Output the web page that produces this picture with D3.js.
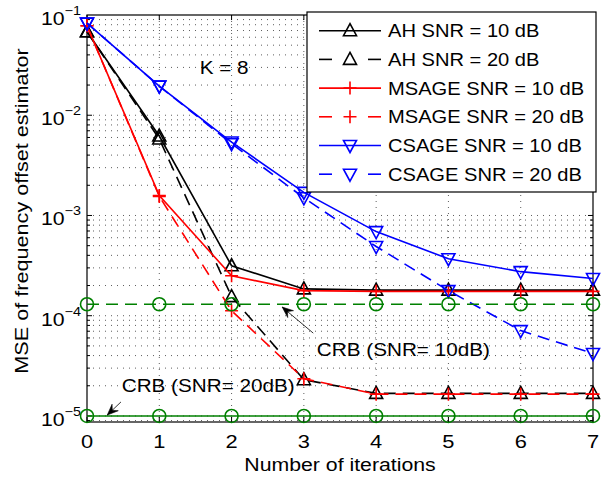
<!DOCTYPE html>
<html><head><meta charset="utf-8">
<script src="https://cdn.jsdelivr.net/npm/d3@7"></script>
<style>
body{margin:0;background:#fff;}
svg{display:block;font-family:"Liberation Sans",Arial,sans-serif;}
</style></head>
<body>
<svg id="chart" width="608" height="482"></svg>
<script>
// ---- data ----
const iterations = [0,1,2,3,4,5,6,7];
const ah10   = [0.068, 0.0062, 3.15e-4, 1.85e-4, 1.8e-4, 1.8e-4, 1.8e-4, 1.8e-4];
const ah20   = [0.068, 0.0058, 1.55e-4, 2.3e-5, 1.68e-5, 1.68e-5, 1.68e-5, 1.68e-5];
const msage10 = [0.078, 1.58e-3, 2.5e-4, 1.78e-4, 1.75e-4, 1.75e-4, 1.75e-4, 1.75e-4];
const msage20 = [0.078, 1.55e-3, 1.12e-4, 2.35e-5, 1.65e-5, 1.65e-5, 1.65e-5, 1.65e-5];
const csage10 = [0.083, 0.0195, 0.0054, 0.0017, 6.9e-4, 3.7e-4, 2.75e-4, 2.35e-4];
const csage20 = [0.083, 0.0195, 0.0052, 0.0015, 4.9e-4, 1.78e-4, 7.1e-5, 4.2e-5];
const crb10  = [1.3e-4, 1.3e-4, 1.3e-4, 1.3e-4, 1.3e-4, 1.3e-4, 1.3e-4, 1.3e-4];
const crb20  = [1e-5, 1e-5, 1e-5, 1e-5, 1e-5, 1e-5, 1e-5, 1e-5];
const xTicks = [0,1,2,3,4,5,6,7];
const yTickExps = [-1,-2,-3,-4,-5];
const legendLabels = ["AH SNR = 10 dB","AH SNR = 20 dB","MSAGE SNR = 10 dB","MSAGE SNR = 20 dB","CSAGE SNR = 10 dB","CSAGE SNR = 20 dB"];
const xLabel = "Number of iterations";
const yLabel = "MSE of frequency offset estimator";
const kText = "K = 8";
const crbNotes = [
  {text:"CRB (SNR= 10dB)", tx:3.18, ty:4.0e-5, ax0:3.13, ay0:6.7e-5, ax1:2.70, ay1:1.22e-4},
  {text:"CRB (SNR= 20dB)", tx:0.48, ty:1.72e-5, ax0:0.47, ay0:1.38e-5, ax1:0.28, ay1:1.02e-5}
];

const series = [
  {vals:ah10, color:"#000", dash:null, marker:"tri-up", legend:0},
  {vals:ah20, color:"#000", dash:"12,7", marker:"tri-up", legend:1},
  {vals:msage10, color:"#ff0000", dash:null, marker:"plus", legend:2},
  {vals:msage20, color:"#ff0000", dash:"12,7", marker:"plus", legend:3},
  {vals:csage10, color:"#0000ff", dash:null, marker:"tri-down", legend:4},
  {vals:csage20, color:"#0000ff", dash:"12,7", marker:"tri-down", legend:5},
  {vals:crb10, color:"#008000", dash:"12,7", marker:"circle", legend:-1},
  {vals:crb20, color:"#008000", dash:null, marker:"circle", legend:-1}
];

// ---- layout ----
const L = 87, R = 593, T = 15, B = 422;
const SX = 1.15; // horizontal glyph stretch to mimic reference font
const svg = d3.select("#chart");
const x = d3.scaleLinear().domain([0,7]).range([L,R]);
const y = d3.scaleLog().domain([8.7e-6, 0.1]).range([B,T]);

function addText(parent, px, py, str, size, anchor, rot, sx){
  return parent.append("text")
    .attr("transform",`translate(${px},${py}) rotate(${rot||0}) scale(${sx||SX},1)`)
    .attr("text-anchor",anchor||"start").attr("font-size",size).text(str);
}

// grid
const grid = svg.append("g").attr("stroke","#333").attr("stroke-width",0.8).attr("stroke-dasharray","1,5");
xTicks.forEach(t=>{ if(t>0 && t<7) grid.append("line").attr("x1",x(t)).attr("x2",x(t)).attr("y1",T).attr("y2",B); });
const minorVals = [];
for (let e=-6; e<=-1; e++) for (let m=1; m<=9; m++) { const v=m*Math.pow(10,e); if (v>=8.7e-6 && v<0.1) minorVals.push(v); }
minorVals.forEach(v=>{ grid.append("line").attr("x1",L).attr("x2",R).attr("y1",y(v)).attr("y2",y(v)); });

// axes box
svg.append("rect").attr("x",L).attr("y",T).attr("width",R-L).attr("height",B-T).attr("fill","none").attr("stroke","#000").attr("stroke-width",1.2);

// ticks
const tk = svg.append("g").attr("stroke","#000").attr("stroke-width",1);
xTicks.forEach(t=>{
  tk.append("line").attr("x1",x(t)).attr("x2",x(t)).attr("y1",B).attr("y2",B-5);
  tk.append("line").attr("x1",x(t)).attr("x2",x(t)).attr("y1",T).attr("y2",T+5);
});
minorVals.forEach(v=>{
  const major = Math.abs(Math.log10(v)-Math.round(Math.log10(v)))<1e-9;
  const len = major?5:3;
  tk.append("line").attr("x1",L).attr("x2",L+len).attr("y1",y(v)).attr("y2",y(v));
  tk.append("line").attr("x1",R).attr("x2",R-len).attr("y1",y(v)).attr("y2",y(v));
});

// tick labels
xTicks.forEach(t=>{
  addText(svg, x(t), 448, String(t), 19, "middle");
});
yTickExps.forEach(e=>{
  const yy = y(Math.pow(10,e));
  const g = svg.append("text").attr("transform",`translate(81,${yy+10}) scale(${SX},1)`).attr("text-anchor","end").attr("font-size",18.5);
  g.append("tspan").text("10");
  g.append("tspan").attr("font-size",12.5).attr("dy",-10).text("\u2212"+(-e));
});

// axis labels
addText(svg, (L+R)/2, 471, xLabel, 18.5, "middle");
addText(svg, 28, 211, yLabel, 18.5, "middle", -90, 1.17);

// marker drawing
function drawMarker(g, type, cx, cy, color){
  if (type==="tri-up") {
    g.append("path").attr("d",`M${cx},${cy-7}L${cx+6.5},${cy+5}L${cx-6.5},${cy+5}Z`).attr("fill","none").attr("stroke",color).attr("stroke-width",1.6);
  } else if (type==="tri-down") {
    g.append("path").attr("d",`M${cx},${cy+7}L${cx+6.5},${cy-5}L${cx-6.5},${cy-5}Z`).attr("fill","none").attr("stroke",color).attr("stroke-width",1.6);
  } else if (type==="plus") {
    g.append("path").attr("d",`M${cx-6.5},${cy}H${cx+6.5}M${cx},${cy-6.5}V${cy+6.5}`).attr("fill","none").attr("stroke",color).attr("stroke-width",1.6);
  } else if (type==="circle") {
    g.append("circle").attr("cx",cx).attr("cy",cy).attr("r",6.5).attr("fill","none").attr("stroke",color).attr("stroke-width",1.6);
  }
}

// series
const line = d3.line().x((d,i)=>x(iterations[i])).y(d=>y(d));
const plotG = svg.append("g");
series.forEach(s=>{
  plotG.append("path").datum(s.vals).attr("d",line).attr("fill","none").attr("stroke",s.color).attr("stroke-width",1.6)
    .attr("stroke-dasharray",s.dash);
  s.vals.forEach((v,i)=>drawMarker(plotG, s.marker, x(iterations[i]), y(v), s.color));
});

// K = 8
addText(svg, x(1.56), y(0.0257), kText, 18);

// CRB annotations with arrows
function arrow(x0,y0,x1,y1){
  svg.append("line").attr("x1",x0).attr("y1",y0).attr("x2",x1).attr("y2",y1).attr("stroke","#000").attr("stroke-width",0.8);
  const a = Math.atan2(y1-y0,x1-x0);
  const len=11, w=4.5, back=7;
  const bx = x1 - len*Math.cos(a), by = y1 - len*Math.sin(a);
  const nx = -Math.sin(a), ny = Math.cos(a);
  const mx = x1 - back*Math.cos(a), my = y1 - back*Math.sin(a);
  svg.append("path").attr("d",`M${x1},${y1}L${bx+nx*w},${by+ny*w}L${mx},${my}L${bx-nx*w},${by-ny*w}Z`).attr("fill","#000").attr("stroke","#000").attr("stroke-width",0.6);
}
crbNotes.forEach(n=>{
  addText(svg, x(n.tx), y(n.ty), n.text, 18);
  arrow(x(n.ax0),y(n.ay0),x(n.ax1),y(n.ay1));
});

// legend
const lg = svg.append("g");
lg.append("rect").attr("x",307).attr("y",12).attr("width",289).attr("height",180).attr("fill","#fff").attr("stroke","#000").attr("stroke-width",1.2);
series.filter(s=>s.legend>=0).forEach(s=>{
  const yy = 30.7 + s.legend*28.7;
  if (s.dash) {
    lg.append("line").attr("x1",319).attr("x2",332).attr("y1",yy).attr("y2",yy).attr("stroke",s.color).attr("stroke-width",1.6);
    lg.append("line").attr("x1",368).attr("x2",381).attr("y1",yy).attr("y2",yy).attr("stroke",s.color).attr("stroke-width",1.6);
  } else {
    lg.append("line").attr("x1",319).attr("x2",381).attr("y1",yy).attr("y2",yy).attr("stroke",s.color).attr("stroke-width",1.6);
  }
  drawMarker(lg, s.marker, 350, yy, s.color);
  addText(lg, 388, yy+6.5, legendLabels[s.legend], 17.5);
});
</script>
</body></html>
